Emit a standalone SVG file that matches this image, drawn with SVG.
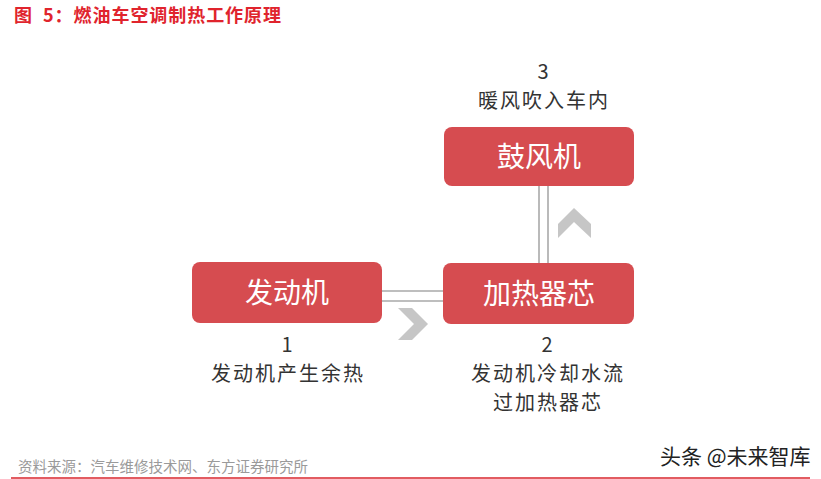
<svg xmlns="http://www.w3.org/2000/svg" width="821" height="479" viewBox="0 0 821 479">
<style>
.box{fill:#d64c50;}
.bt{font-family:"Noto Sans CJK SC","Noto Sans",sans-serif;font-size:28px;fill:#ffffff;text-anchor:middle;}
.lab{font-family:"Noto Sans CJK SC","Noto Sans",sans-serif;font-size:20px;letter-spacing:2px;fill:#333333;text-anchor:middle;}
.ln{stroke:#a9a9a9;stroke-width:1.6;fill:none;}
.chev{fill:#c6c6c6;}
</style>
<rect width="821" height="479" fill="#ffffff"/>
<text x="14" y="22" font-family="'Noto Sans CJK SC',sans-serif" font-size="18" font-weight="bold" fill="#e0242d" xml:space="preserve" textLength="267" lengthAdjust="spacing">图  5：燃油车空调制热工作原理</text>
<g id="connectors">
<line class="ln" x1="382" y1="291" x2="444" y2="291"/>
<line class="ln" x1="382" y1="301" x2="444" y2="301"/>
<line class="ln" x1="539" y1="186" x2="539" y2="263"/>
<line class="ln" x1="548" y1="186" x2="548" y2="263"/>
<polygon class="chev" points="398,308 412,308 428,324 412,340 398,340 414,324"/>
<polygon class="chev" points="558,224 574,208 591,224 591,238 574,222 558,238"/>
</g>
<g id="blower">
<rect class="box" x="444" y="127" width="190" height="59" rx="8"/>
<text class="bt" x="539" y="167">鼓风机</text>
</g>
<g id="engine">
<rect class="box" x="192" y="262" width="190" height="61" rx="8"/>
<text class="bt" x="287" y="303">发动机</text>
</g>
<g id="heatercore">
<rect class="box" x="443" y="263" width="191" height="61" rx="8"/>
<text class="bt" x="539" y="304">加热器芯</text>
</g>
<g id="labels">
<text class="lab" x="544" y="79">3</text>
<text class="lab" x="544" y="108">暖风吹入车内</text>
<text class="lab" x="288" y="352">1</text>
<text class="lab" x="288" y="381">发动机产生余热</text>
<text class="lab" x="548" y="352">2</text>
<text class="lab" x="548" y="381">发动机冷却水流</text>
<text class="lab" x="548" y="410">过加热器芯</text>
</g>
<text x="18" y="472" font-family="'Noto Sans CJK SC',sans-serif" font-size="14.5" fill="#9a9a9a">资料来源：汽车维修技术网、东方证券研究所</text>
<text x="660" y="464" font-family="'Noto Sans CJK SC',sans-serif" font-size="21" fill="#222222">头条 @未来智库</text>
<line x1="11" y1="478" x2="810" y2="478" stroke="#d9262d" stroke-width="1.5"/>
</svg>
